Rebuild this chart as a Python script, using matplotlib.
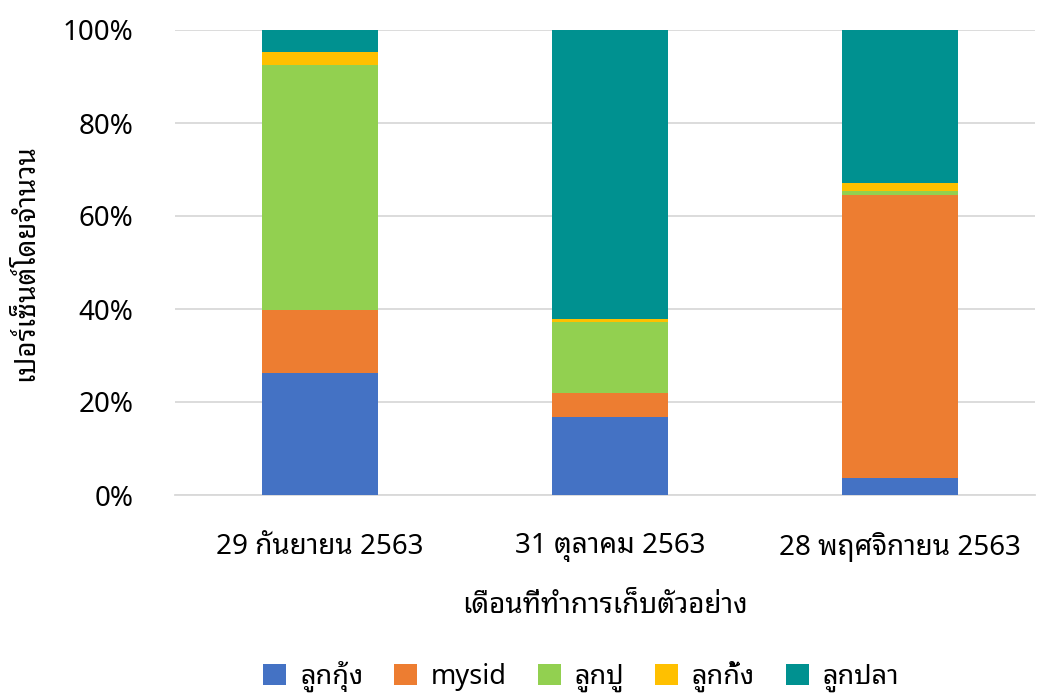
import numpy as np
import matplotlib
matplotlib.use("Agg")
import matplotlib.pyplot as plt
from matplotlib.patches import Patch

plt.rcParams["font.family"] = ["Noto Sans", "Noto Sans Thai Looped", "DejaVu Sans"]

# =========================
# Data (percent by count)
# =========================
dates = ["29 กันยายน 2563", "31 ตุลาคม 2563", "28 พฤศจิกายน 2563"]
series = ["ลูกกุ้ง", "mysid", "ลูกปู", "ลูกกั้ง", "ลูกปลา"]
shrimp = [26.2, 16.8, 3.6]
mysid = [13.6, 5.1, 61.0]
crab = [52.6, 15.4, 0.8]
mantis = [2.8, 0.5, 1.7]
fish = [4.8, 62.2, 32.9]
yticks = [0, 20, 40, 60, 80, 100]

colors = ["#4472C4", "#ED7D31", "#92D050", "#FFC000", "#009190"]

fig = plt.figure(figsize=(10.38, 6.93), dpi=100)
ax = fig.add_axes([175 / 1038, 198 / 693, 860 / 1038, 465 / 693])

x = np.arange(len(dates))
bottom = np.zeros(len(dates))
for vals, col in zip([shrimp, mysid, crab, mantis, fish], colors):
    ax.bar(x, vals, width=0.4, bottom=bottom, color=col, zorder=3)
    bottom += np.array(vals)

ax.set_ylim(0, 100)
ax.set_xlim(-0.5, 2.5 - 10 / 290)
ax.set_yticks(yticks)
ax.set_yticklabels([f"{v}%" for v in yticks])
ax.set_xticks(x)
ax.set_xticklabels(dates)
ax.grid(axis="y", color="#D9D9D9", linewidth=1.3, zorder=0)
for s in ["top", "right", "left"]:
    ax.spines[s].set_visible(False)
ax.spines["bottom"].set_color("#D9D9D9")
ax.spines["bottom"].set_linewidth(1.3)
ax.tick_params(axis="both", length=0, labelsize=20, colors="#000000")
ax.tick_params(axis="y", pad=30)
ax.tick_params(axis="x", pad=27)

ax.set_xlabel("เดือนที่ทำการเก็บตัวอย่าง", fontsize=20, labelpad=21)
ax.set_ylabel("เปอร์เซ็นต์โดยจำนวน", fontsize=20, labelpad=16)

handles = [Patch(facecolor=c) for c in colors]
fig.legend(handles, series, loc="center", bbox_to_anchor=(0.56, 0.024), ncol=5,
           frameon=False, fontsize=19.5, handlelength=0.85, handleheight=0.85,
           handletextpad=0.5, columnspacing=1.15)

fig.savefig("out.png", dpi=100)
